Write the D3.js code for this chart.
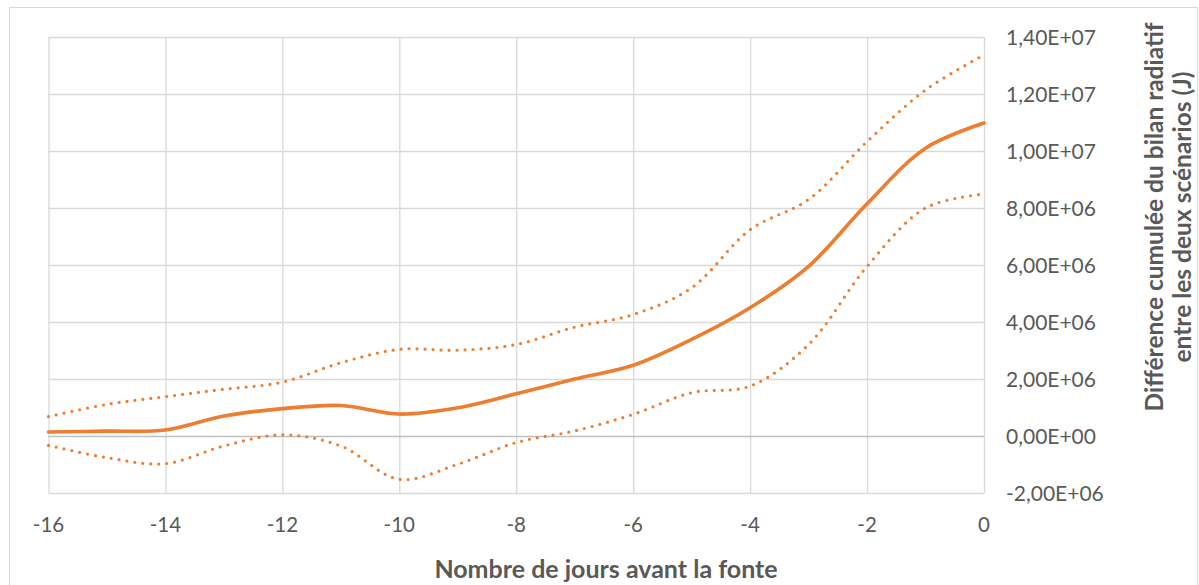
<!DOCTYPE html>
<html>
<head>
<meta charset="utf-8">
<script src="https://cdn.jsdelivr.net/npm/d3@7"></script>
<style>
	html, body { margin: 0; padding: 0; background: #fff; }
	svg { display: block; }
	text { font-family: Lato, "Open Sans", sans-serif; fill: #595959; }
</style>
</head>
<body>
<svg id="chart" width="1199" height="585"></svg>
<script>
// jours avant la fonte
var days = [-16, -15, -14, -13, -12, -11, -10, -9, -8, -7, -6, -5, -4, -3, -2, -1, 0];
// courbe moyenne (J)
var meanValues = [0.14e6, 0.17e6, 0.21e6, 0.70e6, 0.96e6, 1.07e6, 0.77e6, 0.99e6, 1.48e6, 2.00e6, 2.48e6, 3.39e6, 4.50e6, 5.95e6, 8.15e6, 10.1e6, 10.98e6];
// borne haute (pointillés)
var upperValues = [0.68e6, 1.11e6, 1.38e6, 1.64e6, 1.89e6, 2.57e6, 3.04e6, 3.01e6, 3.21e6, 3.82e6, 4.26e6, 5.2e6, 7.24e6, 8.3e6, 10.33e6, 12.14e6, 13.37e6];
// borne basse (pointillés)
var lowerValues = [-0.33e6, -0.76e6, -0.97e6, -0.35e6, 0.04e6, -0.35e6, -1.52e6, -0.99e6, -0.23e6, 0.18e6, 0.76e6, 1.52e6, 1.75e6, 3.21e6, 5.95e6, 8.0e6, 8.49e6];

var xTicks = [-16, -14, -12, -10, -8, -6, -4, -2, 0];
var yTicks = [-2e6, 0, 2e6, 4e6, 6e6, 8e6, 10e6, 12e6, 14e6];

var xTitle = 'Nombre de jours avant la fonte';
var yTitleLines = ['Différence cumulée du bilan radiatif', 'entre les deux scénarios (J)'];

const svg = d3.select('#chart');
const margin = {top: 37, right: 215, bottom: 92, left: 48.5};
const width = 1199, height = 585;

// cadre du graphique
svg.append('rect')
	.attr('x', 9.5).attr('y', 7.5)
	.attr('width', 1188).attr('height', 600)
	.attr('fill', 'none')
	.attr('stroke', '#d9d9d9');

const x = d3.scaleLinear()
	.domain([-16, 0])
	.range([margin.left, width - margin.right]);

const y = d3.scaleLinear()
	.domain([-2e6, 14e6])
	.range([height - margin.bottom, margin.top]);

// format excel : 1,40E+07
function sciFr(v) {
	if (v === 0) return '0,00E+00';
	var s = v.toExponential(2).replace('.', ',');
	return s.replace(/e([+-])(\d)$/, 'E$10$2').replace(/e([+-])(\d\d)$/, 'E$1$2');
}

// grille verticale
const xAxis = g => g
	.attr('transform', `translate(0, ${margin.top})`)
	.call(d3.axisBottom(x).tickValues(xTicks).tickSize(height - margin.bottom - margin.top).tickFormat(''))
	.call(g => g.select('.domain').remove())
	.call(g => g.selectAll('line').attr('stroke', '#d9d9d9').attr('stroke-width', 1.3));

// grille horizontale
const yAxis = g => g
	.attr('transform', `translate(${width - margin.right}, 0)`)
	.call(d3.axisLeft(y).tickValues(yTicks).tickSize(width - margin.right - margin.left).tickFormat(''))
	.call(g => g.select('.domain').remove())
	.call(g => g.selectAll('line')
		.attr('stroke', d => d === 0 ? '#bfbfbf' : '#d9d9d9')
		.attr('stroke-width', 1.3));

svg.append('g').call(xAxis);
svg.append('g').call(yAxis);

// étiquettes
svg.append('g').selectAll('text').data(xTicks).enter().append('text')
	.attr('x', d => x(d))
	.attr('y', 532)
	.attr('text-anchor', 'middle')
	.style('font-size', '20.5px')
	.text(d => d);

svg.append('g').selectAll('text').data(yTicks).enter().append('text')
	.attr('x', 1006)
	.attr('y', d => y(d))
	.attr('dy', '0.36em')
	.style('font-size', '21px')
	.text(d => sciFr(d));

svg.append('text')
	.attr('x', 606)
	.attr('y', 578)
	.attr('text-anchor', 'middle')
	.style('font-size', '25px')
	.style('font-weight', 'bold')
	.text(xTitle);

svg.append('g')
	.attr('transform', 'translate(1163, 217) rotate(-90)')
	.selectAll('text').data(yTitleLines).enter().append('text')
	.attr('x', 0)
	.attr('y', (d, i) => i * 28)
	.attr('text-anchor', 'middle')
	.style('font-size', '24.5px')
	.style('font-weight', 'bold')
	.text(d => d);

// courbes lissées
const line = values => d3.line()
	.x((d, i) => x(days[i]))
	.y(d => y(d))
	.curve(d3.curveCatmullRom.alpha(0.5))(values);

const orange = '#ed7d31';

svg.append('path')
	.attr('d', line(upperValues))
	.attr('fill', 'none')
	.attr('stroke', orange)
	.attr('stroke-width', 3.2)
	.attr('stroke-linecap', 'round')
	.attr('stroke-dasharray', '0 8');

svg.append('path')
	.attr('d', line(lowerValues))
	.attr('fill', 'none')
	.attr('stroke', orange)
	.attr('stroke-width', 3.2)
	.attr('stroke-linecap', 'round')
	.attr('stroke-dasharray', '0 8');

svg.append('path')
	.attr('d', line(meanValues))
	.attr('fill', 'none')
	.attr('stroke', orange)
	.attr('stroke-width', 3.6)
	.attr('stroke-linecap', 'round');
</script>
</body>
</html>
